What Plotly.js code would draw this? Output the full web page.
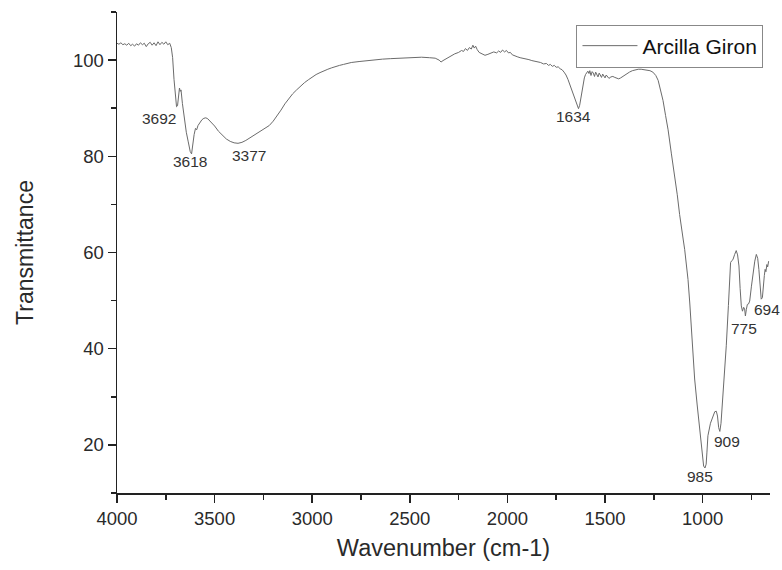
<!DOCTYPE html>
<html>
<head>
<meta charset="utf-8">
<script src="https://cdn.plot.ly/plotly-3.0.1.min.js"></script>
<style>html,body{margin:0;padding:0;background:#fff;}#chart{width:782px;height:570px;}</style>
</head>
<body>
<div id="chart"></div>
<script>
const seriesName = "Arcilla Giron";
const wavenumber = [4000,3990,3980,3970,3960,3950,3940,3930,3920,3910,3900,3890,3880,3870,3860,3850,3840,3830,3820,3810,3800,3790,3780,3770,3760,3750,3740,3730,3722,3715,3708,3700,3695,3690,3685,3680,3676,3672,3665,3655,3645,3635,3625,3618,3612,3605,3598,3592,3585,3575,3565,3555,3545,3535,3520,3500,3480,3460,3440,3420,3400,3380,3360,3340,3320,3300,3280,3260,3240,3220,3200,3180,3160,3140,3120,3100,3080,3060,3040,3020,3000,2980,2960,2940,2920,2900,2880,2860,2840,2820,2800,2760,2720,2680,2640,2600,2560,2520,2480,2440,2400,2370,2350,2340,2330,2310,2290,2270,2250,2235,2225,2215,2205,2195,2185,2177,2170,2163,2155,2145,2130,2115,2100,2085,2070,2055,2045,2035,2025,2015,2005,1995,1985,1975,1965,1950,1935,1920,1905,1890,1875,1860,1845,1830,1815,1800,1790,1780,1770,1760,1750,1740,1730,1720,1710,1700,1690,1680,1670,1660,1650,1642,1636,1630,1624,1618,1612,1606,1600,1594,1588,1582,1578,1572,1566,1560,1554,1548,1542,1536,1530,1524,1518,1512,1506,1500,1494,1488,1480,1470,1460,1450,1440,1430,1420,1410,1400,1390,1375,1360,1345,1330,1315,1300,1285,1270,1255,1240,1228,1215,1203,1190,1177,1160,1143,1130,1118,1109,1100,1092,1083,1075,1066,1058,1050,1041,1028,1015,1005,995,988,982,978,973,960,947,938,930,924,918,912,906,896,888,879,868,857,851,845,836,828,821,814,808,802,796,790,785,781,776,771,765,759,750,742,733,725,718,712,706,700,694,688,684,680,676,671,667,662];
const transmittance = [103.5,103.3,103.6,103.2,103.4,103.1,103.5,103.0,103.3,102.9,103.4,103.1,103.6,103.2,103.5,102.8,103.4,103.7,103.1,103.6,103.0,103.8,103.2,103.7,103.3,103.8,103.2,103.5,102.6,100.5,96.0,92.0,90.3,90.5,93.0,94.2,93.5,93.8,91.0,87.5,85.0,83.0,81.0,80.5,82.5,84.5,85.8,85.5,86.4,87.0,87.6,87.9,88.0,87.8,87.2,86.3,85.2,84.3,83.6,83.1,82.8,82.7,82.9,83.3,83.8,84.3,84.9,85.4,85.9,86.4,87.3,88.4,89.6,90.9,92.0,93.0,93.8,94.6,95.3,95.9,96.5,97.0,97.4,97.8,98.1,98.4,98.7,98.9,99.1,99.3,99.5,99.7,99.9,100.1,100.2,100.3,100.4,100.5,100.6,100.6,100.5,100.4,100.0,99.6,99.9,100.4,100.9,101.3,101.6,102.0,101.8,102.4,102.0,102.6,102.3,103.1,102.5,102.9,102.2,101.6,101.3,101.0,101.2,101.4,101.7,101.5,101.9,101.6,102.1,101.7,102.0,101.5,101.6,101.1,100.9,100.7,100.5,100.4,100.2,100.1,99.9,99.8,99.6,99.5,99.2,99.3,98.9,99.1,98.7,98.9,98.5,98.6,98.2,98.0,97.5,96.9,96.0,94.8,93.5,92.3,91.2,90.4,89.9,90.6,92.2,93.8,95.2,96.3,97.0,97.5,97.7,97.2,97.8,96.8,97.6,97.3,96.6,97.5,97.0,96.5,97.3,96.9,96.4,97.1,96.8,96.3,96.9,96.6,96.2,96.5,96.6,96.4,96.2,96.1,96.3,96.6,96.9,97.2,97.5,97.8,98.0,98.1,98.1,98.0,97.9,97.8,97.5,96.8,95.8,93.8,91.6,88.5,85.5,80.5,76.0,72.0,67.9,64.8,62.8,60.6,57.5,54.4,49.5,44.0,38.8,33.7,28.3,23.3,19.3,15.6,15.2,16.0,18.5,21.9,24.5,26.0,26.9,27.0,26.0,23.6,22.8,24.5,30.2,35.0,40.6,49.0,57.9,58.3,58.5,59.6,60.4,59.5,57.2,52.5,48.9,47.8,48.6,48.3,46.8,48.2,49.2,49.3,49.9,53.0,55.8,58.2,59.6,58.8,56.5,53.0,50.3,50.6,54.4,55.2,56.5,56.0,57.5,57.0,58.2];
const peakLabels = ["3692","3618","3377","1634","985","909","775","694"];
const peakLabelX = [3785,3626,3324,1660,1015,877,790,672];
const peakLabelY = [87.8,78.9,80.1,88.2,13.4,20.8,44.2,48.2];
const xTickVals = [4000,3500,3000,2500,2000,1500,1000];
const yTickVals = [20,40,60,80,100];

const FONT = "Liberation Sans, Arial, sans-serif";
const annotations = peakLabels.map((t,i)=>({
  x: peakLabelX[i], y: peakLabelY[i], text: t, showarrow: false,
  xref: 'x', yref: 'y', font: {family: FONT, size: 15.5, color: '#333'}
}));

const trace = {
  x: wavenumber, y: transmittance, type: 'scatter', mode: 'lines',
  name: seriesName, line: {color: '#6b6b6b', width: 1}
};

const axisCommon = {
  showgrid: false, zeroline: false, showline: true, linecolor: '#222', linewidth: 1.5,
  ticks: 'outside', ticklen: 8, tickwidth: 1.5, tickcolor: '#222',
  tickfont: {family: FONT, size: 18.5, color: '#2a2a2a'}
};

const layout = {
  width: 782, height: 570,
  margin: {l: 117, r: 12, t: 12, b: 77},
  paper_bgcolor: '#fff', plot_bgcolor: '#fff',
  showlegend: true,
  legend: {x: 0.99, xanchor: 'right', y: 0.974, yanchor: 'top',
    bordercolor: '#888', borderwidth: 1, bgcolor: 'rgba(255,255,255,0)', itemwidth: 55,
    font: {family: FONT, size: 21, color: '#111'}},
  xaxis: Object.assign({}, axisCommon, {
    range: [4000, 655], tickvals: xTickVals,
    minor: {dtick: 250, tick0: 0, ticks: 'outside', ticklen: 5, tickwidth: 1.5, tickcolor: '#222', showgrid: false},
    title: {text: 'Wavenumber (cm-1)', font: {family: FONT, size: 23.5, color: '#2a2a2a'}, standoff: 12}
  }),
  yaxis: Object.assign({}, axisCommon, {
    range: [10, 110], tickvals: yTickVals,
    minor: {dtick: 10, tick0: 0, ticks: 'outside', ticklen: 5, tickwidth: 1.5, tickcolor: '#222', showgrid: false},
    title: {text: 'Transmittance', font: {family: FONT, size: 23, color: '#2a2a2a'}, standoff: 33}
  }),
  annotations: annotations
};

Plotly.newPlot('chart', [trace], layout, {displayModeBar: false, staticPlot: true});
</script>
</body>
</html>
